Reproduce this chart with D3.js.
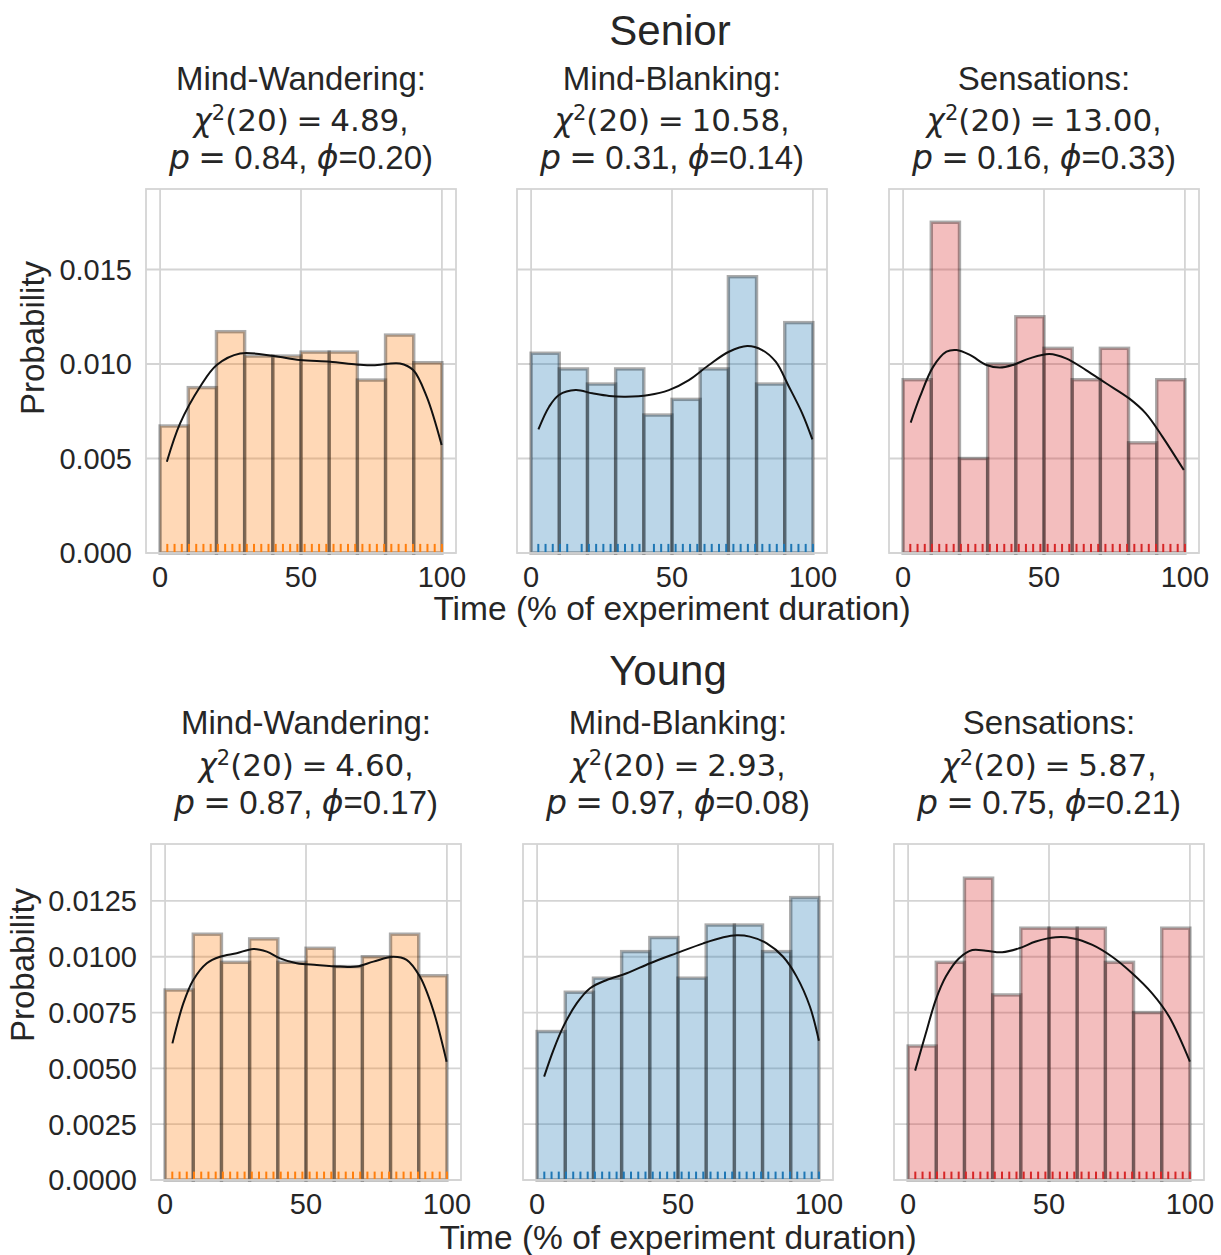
<!DOCTYPE html>
<html>
<head>
<meta charset="utf-8">
<script src="https://cdn.jsdelivr.net/npm/d3@7"></script>
<style>
  body { margin: 0; background: #fff; }
  text { white-space: pre; }
</style>
</head>
<body>
<script>
  // histogram bins (time, % of experiment duration)
  var binEdges = [0, 10, 20, 30, 40, 50, 60, 70, 80, 90, 100];

  // densities per bin
  var seniorMW = [0.00672, 0.00875, 0.01171, 0.01042, 0.01042, 0.01063, 0.01063, 0.00915, 0.01153, 0.01007];
  var seniorMB = [0.01057, 0.00974, 0.00894, 0.00974, 0.00730, 0.00813, 0.00974, 0.01462, 0.00894, 0.01219];
  var seniorSens = [0.00917, 0.01750, 0.00500, 0.01000, 0.01250, 0.01083, 0.00917, 0.01083, 0.00583, 0.00917];
  var youngMW = [0.00851, 0.01101, 0.00975, 0.01080, 0.00975, 0.01038, 0.00956, 0.01000, 0.01101, 0.00915];
  var youngMB = [0.00665, 0.00841, 0.00904, 0.01023, 0.01086, 0.00904, 0.01142, 0.01142, 0.01023, 0.01265];
  var youngSens = [0.00600, 0.00975, 0.01352, 0.00829, 0.01128, 0.01128, 0.01128, 0.00975, 0.00750, 0.01128];

  // kde curves [time, density]
  var kdeSeniorMW = [[2.4,0.00483],[7.1,0.00686],[14.2,0.00880],[20.1,0.00995],[28.4,0.01056],[40.2,0.01042],
    [49.6,0.01021],[60.3,0.01012],[69.7,0.00998],[75.6,0.00993],[85.1,0.01003],[89.8,0.00968],[94.6,0.00827],[99.9,0.00571]];
  var kdeSeniorMB = [[2.6,0.00654],[6.4,0.00774],[9.9,0.00836],[15.8,0.00862],[21.7,0.00845],[27.7,0.00831],
    [33.6,0.00827],[41.8,0.00836],[48.9,0.00862],[56.0,0.00915],[63.1,0.00995],[70.2,0.01065],[76.7,0.01095],
    [82.0,0.01074],[86.8,0.01012],[91.5,0.00880],[96.2,0.00739],[99.8,0.00601]];
  var kdeSeniorSens = [[2.7,0.00690],[6.0,0.00827],[10.7,0.00986],[15.4,0.01065],[19.0,0.01074],[23.7,0.01048],
    [29.6,0.00995],[34.3,0.00981],[39.0,0.00995],[44.9,0.01030],[51.9,0.01053],[57.8,0.01030],[64.9,0.00968],
    [72.0,0.00898],[80.2,0.00818],[86.1,0.00739],[92.0,0.00616],[99.6,0.00439]];
  var kdeYoungMW = [[2.6,0.00612],[6.5,0.00792],[10.0,0.00896],[14.8,0.00971],[19.5,0.01000],[25.4,0.01016],
    [31.3,0.01035],[36.1,0.01023],[40.8,0.00993],[46.7,0.00971],[53.8,0.00963],[62.1,0.00956],[68.0,0.00956],
    [73.9,0.00978],[81.0,0.01000],[85.7,0.00986],[90.4,0.00911],[95.1,0.00762],[99.9,0.00530]];
  var kdeYoungMB = [[2.5,0.00463],[5.8,0.00582],[9.3,0.00687],[14.1,0.00792],[18.8,0.00859],[24.7,0.00896],
    [31.8,0.00926],[40.1,0.00971],[49.5,0.01016],[59.0,0.01060],[66.1,0.01087],[70.8,0.01096],[75.5,0.01090],
    [81.5,0.01060],[87.3,0.01000],[92.1,0.00911],[96.8,0.00777],[100,0.00624]];
  var kdeYoungSens = [[2.5,0.00490],[6.3,0.00657],[9.8,0.00806],[13.4,0.00911],[18.1,0.00993],[22.8,0.01030],
    [27.6,0.01027],[33.4,0.01020],[39.4,0.01038],[45.3,0.01068],[52.4,0.01087],[58.3,0.01083],[65.4,0.01053],
    [72.4,0.01000],[79.5,0.00926],[86.6,0.00836],[92.6,0.00732],[100,0.00530]];

  // probe times shown in the rug
  var probeTimes = [2.56, 5.13, 7.69, 10.26, 12.82, 15.38, 17.95, 20.51, 23.08, 25.64, 28.21, 30.77, 33.33,
    35.90, 38.46, 41.03, 43.59, 46.15, 48.72, 51.28, 53.85, 56.41, 58.97, 61.54, 64.10, 66.67, 69.23, 71.79,
    74.36, 76.92, 79.49, 82.05, 84.62, 87.18, 89.74, 92.31, 94.87, 97.44, 100];
  var rugMissingSeniorMB = [15.38, 41.03];

  // titles and stats
  var groups = ["Senior", "Young"];
  var categories = ["Mind-Wandering:", "Mind-Blanking:", "Sensations:"];
  var chiSenior = ["4.89", "10.58", "13.00"];
  var pSenior = ["0.84", "0.31", "0.16"];
  var phiSenior = ["0.20", "0.14", "0.33"];
  var chiYoung = ["4.60", "2.93", "5.87"];
  var pYoung = ["0.87", "0.97", "0.75"];
  var phiYoung = ["0.17", "0.08", "0.21"];

  var xTicks = [0, 50, 100];
  var yTicksSenior = [0, 0.005, 0.010, 0.015];
  var yTicksYoung = [0, 0.0025, 0.0050, 0.0075, 0.0100, 0.0125];

  var colors = ["#ff7f0e", "#1f77b4", "#d62728"];
  var sans = "'Liberation Sans', Arial, sans-serif";
  var math = "'DejaVu Sans', sans-serif";
  var ink = "#262626";

  var svg = d3.select("body")
    .append("svg")
    .attr("width", 1221)
    .attr("height", 1255);

  // row layouts (axes frames in px)
  var rows = [
    { name: groups[0], titleX: 670, lefts: [146, 517, 889], w: 310, top: 189, bottom: 553, ymax: 0.01926,
      yTicks: yTicksSenior, fmt: d3.format(".3f"), chi: chiSenior, p: pSenior, phi: phiSenior,
      hist: [seniorMW, seniorMB, seniorSens], kde: [kdeSeniorMW, kdeSeniorMB, kdeSeniorSens],
      rug: [probeTimes, probeTimes.filter(function(t){ return rugMissingSeniorMB.indexOf(t) < 0; }), probeTimes],
      titleY: 45, lineY: [90, 131, 169], xlabY: 620, ylab: [44, 338] },
    { name: groups[1], titleX: 668, lefts: [151, 523, 894], w: 310, top: 844, bottom: 1180, ymax: 0.01505,
      yTicks: yTicksYoung, fmt: d3.format(".4f"), chi: chiYoung, p: pYoung, phi: phiYoung,
      hist: [youngMW, youngMB, youngSens], kde: [kdeYoungMW, kdeYoungMB, kdeYoungSens],
      rug: [probeTimes, probeTimes, probeTimes],
      titleY: 685, lineY: [734, 776, 814], xlabY: 1249, ylab: [34, 965] }
  ];

  rows.forEach(function(row) {
    // group title
    svg.append("text")
      .attr("x", row.titleX).attr("y", row.titleY)
      .attr("text-anchor", "middle")
      .style("font-family", sans).style("font-size", "42px").style("fill", ink)
      .text(row.name);

    row.lefts.forEach(function(left, i) {
      var x = d3.scaleLinear().domain([-5, 105]).range([left, left + row.w]);
      var y = d3.scaleLinear().domain([0, row.ymax]).range([row.bottom, row.top]);
      var g = svg.append("g");
      var cx = left + row.w / 2;

      // grid
      g.selectAll(".gy").data(row.yTicks).enter().append("line")
        .attr("x1", left).attr("x2", left + row.w)
        .attr("y1", function(d){ return y(d); }).attr("y2", function(d){ return y(d); })
        .style("stroke", "#d4d4d4").style("stroke-width", 1.8);
      g.selectAll(".gx").data(xTicks).enter().append("line")
        .attr("x1", function(d){ return x(d); }).attr("x2", function(d){ return x(d); })
        .attr("y1", row.top).attr("y2", row.bottom)
        .style("stroke", "#d4d4d4").style("stroke-width", 1.8);

      // bars
      var bins = row.hist[i].map(function(v, k){ return [binEdges[k], binEdges[k + 1], v]; });
      g.selectAll("rect.bar").data(bins).enter().append("rect")
        .attr("x", function(d){ return x(d[0]); })
        .attr("width", function(d){ return x(d[1]) - x(d[0]); })
        .attr("y", function(d){ return y(d[2]); })
        .attr("height", function(d){ return y(0) - y(d[2]); })
        .style("fill", colors[i]).style("fill-opacity", 0.3)
        .style("stroke", "#000").style("stroke-opacity", 0.33).style("stroke-width", 3.4);

      // kde
      var line = d3.line()
        .x(function(d){ return x(d[0]); })
        .y(function(d){ return y(d[1]); })
        .curve(d3.curveCatmullRom);
      g.append("path").datum(row.kde[i]).attr("d", line)
        .style("fill", "none").style("stroke", "#111").style("stroke-width", 2);

      // rug
      var rugH = (row.bottom - row.top) * 0.025;
      g.selectAll(".rug").data(row.rug[i]).enter().append("line")
        .attr("x1", function(d){ return x(d); }).attr("x2", function(d){ return x(d); })
        .attr("y1", row.bottom).attr("y2", row.bottom - rugH)
        .style("stroke", colors[i]).style("stroke-width", 2);

      // spines
      g.append("rect")
        .attr("x", left).attr("y", row.top)
        .attr("width", row.w).attr("height", row.bottom - row.top)
        .style("fill", "none").style("stroke", "#d4d4d4").style("stroke-width", 1.8);

      // x tick labels
      g.selectAll(".xt").data(xTicks).enter().append("text")
        .attr("x", function(d){ return x(d); })
        .attr("y", row.bottom + 34)
        .attr("text-anchor", "middle")
        .style("font-family", sans).style("font-size", "29px").style("fill", ink)
        .text(function(d){ return d; });

      // y tick labels on first panel only
      if (i === 0) {
        g.selectAll(".yt").data(row.yTicks).enter().append("text")
          .attr("x", left - 14)
          .attr("y", function(d){ return y(d); })
          .attr("dy", "0.36em")
          .attr("text-anchor", "end")
          .style("font-family", sans).style("font-size", "29px").style("fill", ink)
          .text(function(d){ return row.fmt(d); });
        g.append("text")
          .attr("transform", "translate(" + row.ylab[0] + "," + row.ylab[1] + ") rotate(-90)")
          .attr("text-anchor", "middle")
          .style("font-family", sans).style("font-size", "33px").style("fill", ink)
          .text("Probability");
      }

      // x label on middle panel
      if (i === 1) {
        g.append("text")
          .attr("x", cx).attr("y", row.xlabY)
          .attr("text-anchor", "middle")
          .style("font-family", sans).style("font-size", "33.5px").style("fill", ink)
          .text("Time (% of experiment duration)");
      }

      // panel title (3 lines)
      g.append("text")
        .attr("x", cx).attr("y", row.lineY[0]).attr("text-anchor", "middle")
        .style("font-family", sans).style("font-size", "33px").style("fill", ink)
        .text(categories[i]);

      var t2 = g.append("text")
        .attr("x", cx).attr("y", row.lineY[1]).attr("text-anchor", "middle")
        .style("font-size", "31px").style("fill", ink);
      t2.append("tspan").style("font-family", math).style("font-style", "italic").text("\u03C7");
      t2.append("tspan").style("font-family", math).style("font-size", "21px").attr("dy", -11).text("2");
      t2.append("tspan").style("font-family", math).attr("dy", 11).text("(20)\u2005=\u2005" + row.chi[i]);
      t2.append("tspan").style("font-family", sans).style("font-size", "33px").text(",");

      var t3 = g.append("text")
        .attr("x", cx).attr("y", row.lineY[2]).attr("text-anchor", "middle")
        .style("font-size", "33px").style("fill", ink);
      t3.append("tspan").style("font-family", math).style("font-style", "italic").text("p");
      t3.append("tspan").style("font-family", math).text("\u2005=\u2005");
      t3.append("tspan").style("font-family", sans).text(row.p[i] + ", ");
      t3.append("tspan").style("font-family", math).style("font-style", "italic").text("\u03D5");
      t3.append("tspan").style("font-family", sans).text("=" + row.phi[i] + ")");
    });
  });
</script>
</body>
</html>
